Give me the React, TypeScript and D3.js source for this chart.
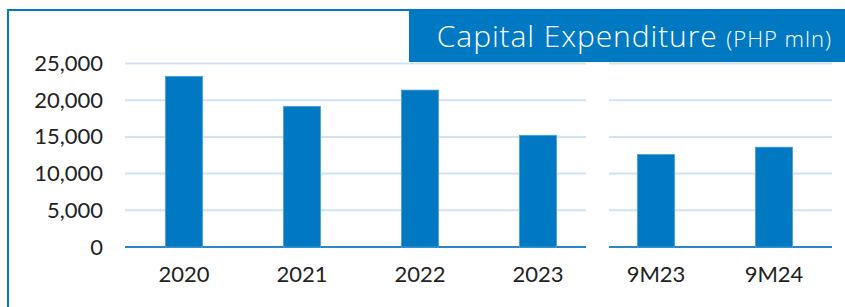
import React, { useRef, useEffect } from "react";
import * as d3 from "d3";

const categories = ["2020", "2021", "2022", "2023", "9M23", "9M24"];
const capex = [23250, 19150, 21380, 15220, 12600, 13600];
const yTicks = [0, 5000, 10000, 15000, 20000, 25000];
// gridline groups: full years, then nine-month comparison
const panels = [
  { from: 125, to: 586 },
  { from: 609, to: 832 },
];

const BLUE = "#0079c2";
const FONT = "Lato, 'Open Sans', sans-serif";

const App = () => {
  const svgRef = useRef<SVGSVGElement>(null);

  useEffect(() => {
    const width = 845;
    const height = 307;

    const svg = d3
      .select(svgRef.current)
      .attr("width", width)
      .attr("height", height)
      .html("");

    const x = d3
      .scaleBand<string>()
      .domain(categories)
      .range([125, 833])
      .paddingInner(0.686)
      .paddingOuter(0.343);

    const y = d3.scaleLinear().domain([0, 25000]).range([247, 63.5]);

    // frame
    svg
      .append("path")
      .attr("d", `M8,${height} L8,10 L409,10`)
      .attr("fill", "none")
      .attr("stroke", BLUE)
      .attr("stroke-width", 2);

    // title box
    svg
      .append("rect")
      .attr("x", 409)
      .attr("y", 9)
      .attr("width", width - 409)
      .attr("height", 53)
      .attr("fill", BLUE);

    const title = svg
      .append("text")
      .attr("x", 832)
      .attr("y", 47)
      .attr("text-anchor", "end")
      .attr("fill", "#fff")
      .attr("font-weight", 300)
      .style("font-family", "'Open Sans', sans-serif");
    title
      .append("tspan")
      .attr("font-size", 30)
      .attr("letter-spacing", 0.9)
      .text("Capital Expenditure ");
    title
      .append("tspan")
      .attr("font-size", 22)
      .attr("letter-spacing", 1)
      .text("(PHP mln)");

    // gridlines per panel
    panels.forEach((p) => {
      svg
        .append("g")
        .selectAll("line")
        .data(yTicks.filter((t) => t > 0))
        .join("line")
        .attr("x1", p.from)
        .attr("x2", p.to)
        .attr("y1", (d) => y(d))
        .attr("y2", (d) => y(d))
        .attr("stroke", "#cfe3f4")
        .attr("stroke-width", 2);

      svg
        .append("line")
        .attr("x1", p.from)
        .attr("x2", p.to)
        .attr("y1", y(0))
        .attr("y2", y(0))
        .attr("stroke", "#2a86c8")
        .attr("stroke-width", 2);
    });

    // bars
    svg
      .append("g")
      .selectAll("rect")
      .data(categories)
      .join("rect")
      .attr("x", (d) => x(d) as number)
      .attr("width", x.bandwidth())
      .attr("y", (_, i) => y(capex[i]))
      .attr("height", (_, i) => y(0) - y(capex[i]))
      .attr("fill", BLUE)
      .attr("stroke", "#4b9fd8")
      .attr("stroke-width", 0.8);

    // y labels
    svg
      .append("g")
      .selectAll("text")
      .data(yTicks)
      .join("text")
      .attr("x", 103)
      .attr("y", (d) => y(d) + 7.5)
      .attr("text-anchor", "end")
      .attr("font-size", 22)
      .attr("fill", "#222")
      .style("font-family", FONT)
      .text((d) => d3.format(",")(d));

    // x labels
    svg
      .append("g")
      .selectAll("text")
      .data(categories)
      .join("text")
      .attr("x", (d) => (x(d) as number) + x.bandwidth() / 2)
      .attr("y", 282)
      .attr("text-anchor", "middle")
      .attr("font-size", 22)
      .attr("fill", "#222")
      .style("font-family", FONT)
      .text((d) => d);
  }, []);

  return (
    <svg
      ref={svgRef}
      style={{ position: "absolute", left: 0, top: 0, background: "#fff" }}
    />
  );
};

export default App;
